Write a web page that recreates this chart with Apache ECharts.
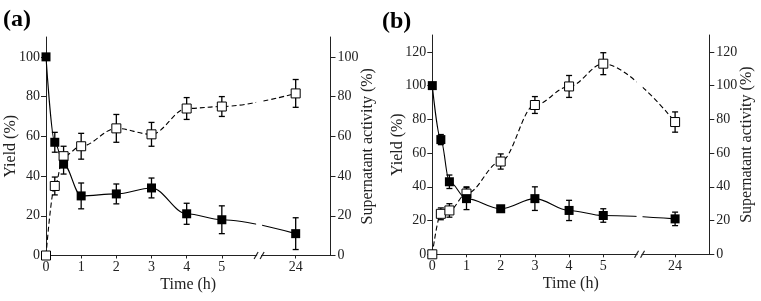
<!DOCTYPE html>
<html>
<head>
<meta charset="utf-8">
<script src="https://cdn.jsdelivr.net/npm/echarts@6/dist/echarts.min.js"></script>
<style>html,body{margin:0;padding:0;background:#fff;}#c{width:761px;height:301px;}</style>
</head>
<body>
<div id="c"></div>
<script>
// ---- data ----
const hours = [0, 0.25, 0.5, 1, 2, 3, 4, 5, 24];
const xTickLabels = ['0', '1', '2', '3', '4', '5', '24'];
const xTickHours = [0, 1, 2, 3, 4, 5, 24];
const yTicksA = [0, 20, 40, 60, 80, 100];
const yTicksB = [0, 20, 40, 60, 80, 100, 120];

const yieldA = [100, 57, 46, 30, 31, 34, 21, 18, 11];
const yieldAErr = [0, 5, 5, 6.5, 5, 5, 5.3, 7, 8];
const activityA = [0, 35, 50, 55, 64, 61, 74, 75, 81.6];
const activityAErr = [0, 4.5, 5, 6.5, 7, 6, 5.5, 5, 7];

const yieldB = [100, 68, 43, 33, 27, 33, 26, 23, 21];
const yieldBErr = [0, 3, 4, 6.5, 1.5, 7, 6, 4, 4];
const activityB = [0, 24, 26, 36, 55, 88.5, 99.5, 113, 78.4];
const activityBErr = [0, 3.5, 4, 4, 4.5, 5, 6.5, 6.5, 6];

// broken time axis: 0-5 h linear, 24 h placed after the break
const BREAK_POS = 6.06;
const POS_24 = 7.1;
function pos(h) { return h <= 5 ? h : POS_24; }
const xTickPos = xTickHours.map(pos);

const FONT = "'Liberation Serif', 'Times New Roman', serif";
const AX = '#222';

const chart = echarts.init(document.getElementById('c'), null, {renderer: 'canvas'});

function xAxisFor(gi) {
  return {
    type: 'value', gridIndex: gi, min: 0, max: gi === 0 ? 8.09 : 8.1,
    name: 'Time (h)', nameLocation: 'middle', nameGap: 21, nameMoveOverlap: false,
    nameTextStyle: {fontFamily: FONT, fontSize: 16, color: '#222'},
    axisLine: {show: true, lineStyle: {color: AX, width: 1}},
    axisTick: {show: true, length: 3, customValues: xTickPos, lineStyle: {color: AX}},
    axisLabel: {customValues: xTickPos, margin: 5, fontFamily: FONT, fontSize: 14, color: '#222',
      formatter: v => { const i = xTickPos.findIndex(p => Math.abs(p - v) < 1e-6); return i >= 0 ? xTickLabels[i] : ''; }},
    splitLine: {show: false}
  };
}
function yAxisFor(gi, side, max, ticks, name) {
  return {
    type: 'value', gridIndex: gi, position: side, min: 0, max: max,
    name: name, nameLocation: 'middle', nameRotate: 90, nameGap: side === 'left' ? 27 : 29,
    nameMoveOverlap: false,
    nameTextStyle: {fontFamily: FONT, fontSize: 16, color: '#222'},
    axisLine: {show: true, lineStyle: {color: AX, width: 1}},
    axisTick: {show: true, length: 5, inside: false, customValues: ticks, lineStyle: {color: AX}},
    axisLabel: {customValues: ticks, margin: side === 'left' ? 6 : 7, fontFamily: FONT, fontSize: 14, color: '#222'},
    splitLine: {show: false}
  };
}

function errSeries(xi, yi, vals, errs) {
  return {
    type: 'custom', xAxisIndex: xi, yAxisIndex: yi, z: 1, silent: true,
    data: hours.map((h, i) => [pos(h), vals[i] - errs[i], vals[i] + errs[i]]).filter((d, i) => errs[i] > 0),
    renderItem: function (params, api) {
      const x = api.value(0);
      const lo = api.coord([x, api.value(1)]);
      const hi = api.coord([x, api.value(2)]);
      const w = 3;
      const st = {stroke: '#000', lineWidth: 1.3};
      return {type: 'group', children: [
        {type: 'line', shape: {x1: lo[0], y1: lo[1], x2: hi[0], y2: hi[1]}, style: st},
        {type: 'line', shape: {x1: hi[0] - w, y1: hi[1], x2: hi[0] + w, y2: hi[1]}, style: st},
        {type: 'line', shape: {x1: lo[0] - w, y1: lo[1], x2: lo[0] + w, y2: lo[1]}, style: st}
      ]};
    }
  };
}
function lineSeries(xi, yi, vals, filled) {
  return {
    type: 'line', xAxisIndex: xi, yAxisIndex: yi, z: 2,
    data: hours.map((h, i) => [pos(h), vals[i]]),
    smooth: 0.35, smoothMonotone: 'x',
    symbol: 'rect', symbolSize: 9, showSymbol: true,
    lineStyle: {color: '#000', width: 1.1, type: filled ? 'solid' : [5, 3]},
    itemStyle: filled ? {color: '#000'} : {color: '#fff', borderColor: '#000', borderWidth: 1},
    emphasis: {disabled: true}
  };
}

const option = {
  animation: false,
  backgroundColor: '#fff',
  grid: [
    {left: 46, top: 37, width: 284.5, height: 218.5},
    {left: 432.3, top: 35, width: 277, height: 219.3}
  ],
  xAxis: [xAxisFor(0), xAxisFor(1)],
  yAxis: [
    yAxisFor(0, 'left', 110, yTicksA, 'Yield (%)'),
    yAxisFor(0, 'right', 110, yTicksA, 'Supernatant activity (%)'),
    yAxisFor(1, 'left', 130, yTicksB, 'Yield (%)'),
    yAxisFor(1, 'right', 130, yTicksB, 'Supernatant activity (%)')
  ],
  series: [
    errSeries(0, 1, activityA, activityAErr),
    errSeries(0, 0, yieldA, yieldAErr),
    lineSeries(0, 1, activityA, false),
    lineSeries(0, 0, yieldA, true),
    errSeries(1, 3, activityB, activityBErr),
    errSeries(1, 2, yieldB, yieldBErr),
    lineSeries(1, 3, activityB, false),
    lineSeries(1, 2, yieldB, true)
  ],
  graphic: [
    {type: 'text', left: 3, top: 8, style: {text: '(a)', fontFamily: FONT, fontWeight: 'bold', fontSize: 24, fill: '#000'}},
    {type: 'text', left: 382, top: 10, style: {text: '(b)', fontFamily: FONT, fontWeight: 'bold', fontSize: 24, fill: '#000'}}
  ]
};
chart.setOption(option);

// axis-break marks, placed through the axis scales
const extra = [];
[[0, 0, 110], [1, 2, 130]].forEach(([xi, yi, ymax]) => {
  const bx = chart.convertToPixel({xAxisIndex: xi}, BREAK_POS);
  const by = chart.convertToPixel({yAxisIndex: yi}, 0);
  const top = chart.convertToPixel({yAxisIndex: yi}, ymax);
  extra.push({type: 'rect', z: 100, shape: {x: bx - 3, y: top, width: 6, height: by - top - 2}, style: {fill: '#fff'}});
  extra.push({type: 'rect', z: 100, shape: {x: bx - 2, y: by - 2, width: 4, height: 4}, style: {fill: '#fff'}});
  extra.push({type: 'line', z: 101, shape: {x1: bx - 5, y1: by + 3.5, x2: bx - 1, y2: by - 3.5}, style: {stroke: '#222', lineWidth: 1.2}});
  extra.push({type: 'line', z: 101, shape: {x1: bx + 1, y1: by + 3.5, x2: bx + 5, y2: by - 3.5}, style: {stroke: '#222', lineWidth: 1.2}});
});
chart.setOption({graphic: option.graphic.concat(extra)});
</script>
</body>
</html>
